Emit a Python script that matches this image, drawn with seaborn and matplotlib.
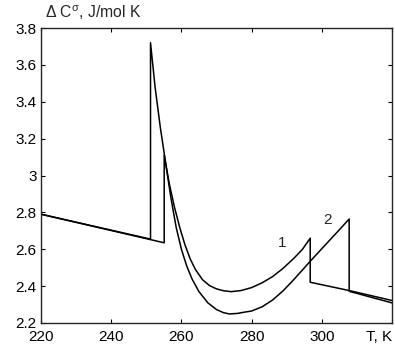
import matplotlib
matplotlib.use("Agg")
import matplotlib.pyplot as plt
import seaborn as sns
import pandas as pd

# Curve 1 (T, K ; ΔC, J/mol K)
t1 = [220.0, 255.1, 255.1, 256.5, 258.0, 259.5, 261.0, 262.5, 264.0, 266.0, 268.0, 270.0,
      272.0, 274.2, 277.0, 280.0, 283.0, 286.0, 289.0, 292.0, 294.5, 296.7, 296.7, 307.8, 320.0]
c1 = [2.790, 2.635, 3.110, 2.960, 2.830, 2.720, 2.625, 2.548, 2.490, 2.435, 2.403, 2.385,
      2.375, 2.370, 2.376, 2.392, 2.418, 2.452, 2.497, 2.550, 2.600, 2.660, 2.421, 2.376, 2.322]

# Curve 2
t2 = [220.0, 251.2, 251.2, 252.5, 254.0, 255.5, 257.0, 258.5, 260.0, 261.5, 263.0, 265.0,
      267.5, 270.0, 272.0, 273.7, 276.0, 278.0, 280.0, 283.0, 286.0, 289.0, 292.0, 294.5,
      296.7, 300.0, 304.0, 307.8, 307.8, 320.0]
c2 = [2.790, 2.655, 3.720, 3.480, 3.260, 3.070, 2.880, 2.720, 2.600, 2.510, 2.440, 2.370,
      2.310, 2.273, 2.256, 2.249, 2.252, 2.259, 2.265, 2.288, 2.325, 2.375, 2.435, 2.488,
      2.535, 2.603, 2.685, 2.764, 2.372, 2.309]

xticks = [220, 240, 260, 280, 300, 320]
xticklabels = ["220", "240", "260", "280", "300", "T, K"]
yticks = [2.2, 2.4, 2.6, 2.8, 3.0, 3.2, 3.4, 3.6, 3.8]
yticklabels = ["2.2", "2.4", "2.6", "2.8", "3", "3.2", "3.4", "3.6", "3.8"]

sns.set_style("ticks")
plt.rcParams["font.family"] = ["Liberation Sans", "DejaVu Sans"]
plt.rcParams["mathtext.fontset"] = "custom"
plt.rcParams["mathtext.rm"] = "Liberation Sans"
plt.rcParams["mathtext.it"] = "Liberation Sans:italic"
plt.rcParams["xtick.direction"] = "in"
plt.rcParams["ytick.direction"] = "in"
plt.rcParams["xtick.top"] = True
plt.rcParams["ytick.right"] = True

fig = plt.figure(figsize=(3.95, 3.52), dpi=100)
ax = fig.add_axes([41 / 395, 1 - 323 / 352, (392 - 41) / 395, (323 - 28) / 352])

df1 = pd.DataFrame({"T": t1, "C": c1})
df2 = pd.DataFrame({"T": t2, "C": c2})
sns.lineplot(data=df1, x="T", y="C", sort=False, estimator=None, color="black", lw=1.1, ax=ax)
sns.lineplot(data=df2, x="T", y="C", sort=False, estimator=None, color="black", lw=1.1, ax=ax)

ax.set_xlim(220, 320)
ax.set_ylim(2.2, 3.8)
ax.set_xticks(xticks)
ax.set_xticklabels(xticklabels)
ax.set_yticks(yticks)
ax.set_yticklabels(yticklabels)
ax.set_xlabel("")
ax.set_ylabel("")
ax.tick_params(labelsize=11, length=3, width=0.8, colors="black")
ax.tick_params(axis="x", pad=5)
ax.tick_params(axis="y", pad=3)
ax.get_xticklabels()[-1].set_horizontalalignment("right")
for s in ax.spines.values():
    s.set_linewidth(1.0)
    s.set_visible(True)

ax.text(288.8, 2.635, "1", fontsize=11, ha="center", va="center")
ax.text(301.5, 2.76, "2", fontsize=11, ha="center", va="center")

fig.text(45 / 395, 1 - 18 / 352, r"Δ C$^{\mathrm{σ}}$, J/mol K", fontsize=11.3,
         ha="left", va="baseline")

fig.savefig("out.png", dpi=100)
